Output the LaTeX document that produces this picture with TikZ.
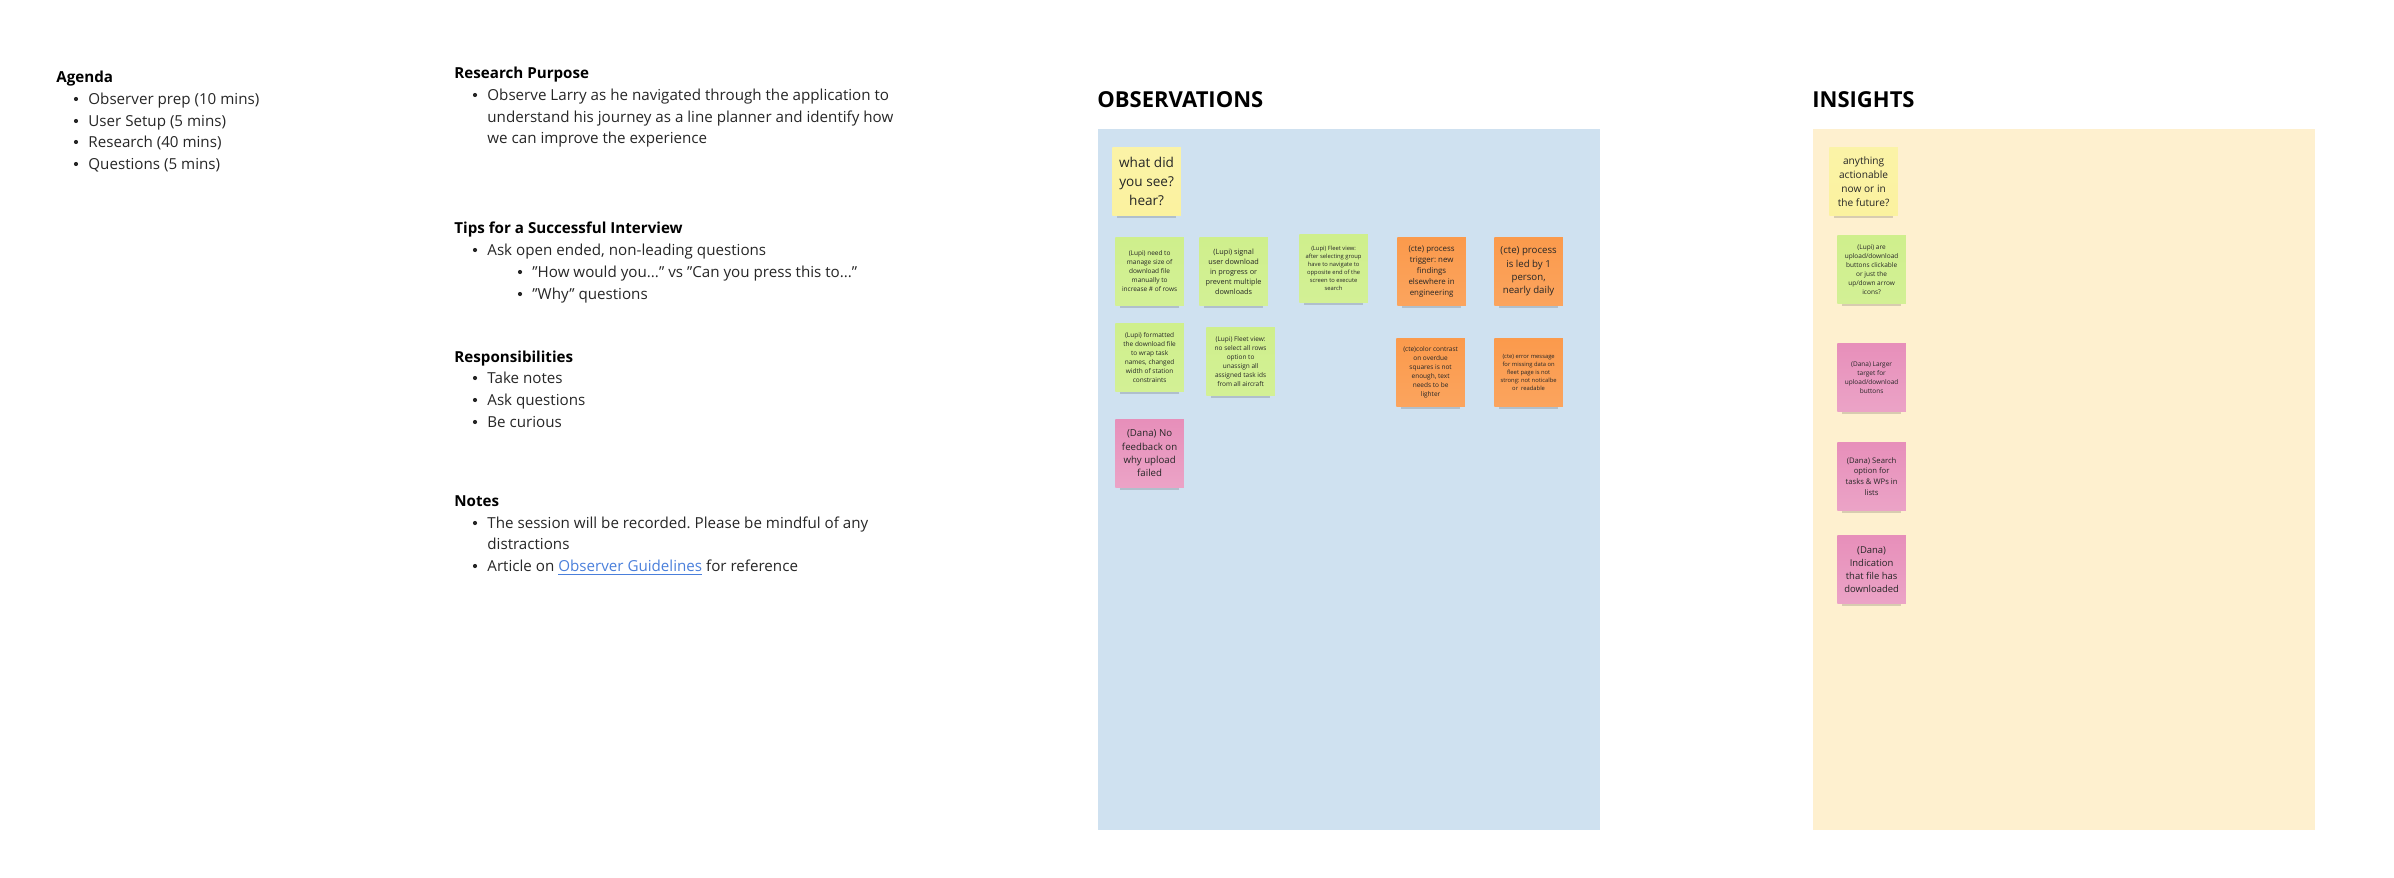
\documentclass[tikz,border=0pt]{standalone}
\usepackage{fontspec}
\setmainfont{Open Sans}[Ligatures=NoCommon]
\usetikzlibrary{shadows}
\frenchspacing
\definecolor{panelblue}{HTML}{CFE1F0}
\definecolor{panelcream}{HTML}{FEF0CF}
\definecolor{linkblue}{HTML}{4A7FDB}
\definecolor{inkgrey}{HTML}{262626}
\newcommand{\fsz}[1]{\fontsize{\fpeval{.985*#1}pt}{\fpeval{1.36*#1}pt}\selectfont}
\tikzset{
  body/.style={anchor=base west,inner sep=0,font=\fontsize{7.58pt}{10.8pt}\selectfont,text=inkgrey},
  head/.style={body,font=\fontsize{7.58pt}{10.8pt}\selectfont\bfseries,text=black},
  title/.style={anchor=base west,inner sep=0,font=\fontsize{11pt}{14pt}\selectfont\bfseries,text=black},
  dot/.style={circle,fill=inkgrey,inner sep=0,minimum size=2.1pt},
  sticky/.style={anchor=north west,minimum width=34.2pt,minimum height=34pt,inner sep=0,align=center,text=inkgrey,
    general shadow={fill=black,opacity=.15,shadow scale=.86,shadow yshift=-4.2pt},
    general shadow={fill=black,opacity=.4,shadow scale=.74,shadow yshift=-5.6pt}},
  yellownote/.style={sticky,top color=notey!92!white,bottom color=notey},
  greennote/.style={sticky,top color=noteg,bottom color=noteg!92!white},
  pinknote/.style={sticky,top color=notep,bottom color=notep!82!white},
  orangenote/.style={sticky,top color=noteo,bottom color=noteo!90!white},
}
\definecolor{notey}{HTML}{FBF29F}
\definecolor{noteg}{HTML}{CFEF8C}
\definecolor{notep}{HTML}{E78FBA}
\definecolor{noteo}{HTML}{FB9A4C}
\begin{document}
\begin{tikzpicture}[x=0.5pt,y=-0.5pt]
\useasboundingbox (0,0) rectangle (2394,878);
% left column
\node[head] (agenda) at (56,82) {Agenda};
\foreach \y/\t in {104/Observer prep (10 mins),126/User Setup (5 mins),147/Research (40 mins),169/Questions (5 mins)}{
  \node[dot] (agendadot\y) at (76,\y-5) {};
  \node[body] (agenda\y) at (88,\y) {\t};
}
% middle column
\node[head] (purpose) at (454,78) {Research Purpose};
\node[dot] (purposedot) at (475,95) {};
\node[body] (purpose1) at (487,100) {Observe Larry as he navigated through the application to};
\node[body] (purpose2) at (487,122) {understand his journey as a line planner and identify how};
\node[body] (purpose3) at (487,143) {we can improve the experience};
\node[head] (tips) at (454,233) {Tips for a Successful Interview};
\node[dot] (tipsdot) at (475,250) {};
\node[body] (tips1) at (487,255) {Ask open ended, non-leading questions};
\node[dot] (tipsdota) at (520,272) {};
\node[body] (tips2) at (532,277) {\symbol{34}How would you...\symbol{34} vs \symbol{34}Can you press this to...\symbol{34}};
\node[dot] (tipsdotb) at (520,294) {};
\node[body] (tips3) at (532,299) {\symbol{34}Why\symbol{34} questions};
\node[head] (resp) at (454,362) {Responsibilities};
\foreach \y/\t in {383/Take notes,405/Ask questions,427/Be curious}{
  \node[dot] (respdot\y) at (475,\y-5) {};
  \node[body] (resp\y) at (487,\y) {\t};
}
\node[head] (notes) at (454,506) {Notes};
\node[dot] (notesdot) at (475,523) {};
\node[body] (notes1) at (487,528) {The session will be recorded. Please be mindful of any};
\node[body] (notes2) at (487,549) {distractions};
\node[dot] (notesdotb) at (475,566) {};
\node[body] (notes3) at (487,571) {Article on \textcolor{linkblue}{\underline{Observer Guidelines}} for reference};
% observations
\node[title] (obstitle) at (1097,107) {OBSERVATIONS};
\fill[panelblue] (1098,129) rectangle (1600,830);
\node[yellownote,font=\fsz{6.9}] (seehear) at (1112,147) {what did\\you see?\\hear?};
\node[greennote,font=\fsz{3.3}] (lupia) at (1115,237) {(Lupi) need to\\manage size of\\download file\\manually to\\increase \# of rows};
\node[greennote,font=\fsz{3.7}] (lupib) at (1199,237) {(Lupi) signal\\user download\\in progress or\\prevent multiple\\downloads};
\node[greennote,font=\fsz{2.95}] (lupic) at (1299,234) {(Lupi) Fleet view:\\after selecting group\\have to navigate to\\opposite end of the\\screen to execute\\search};
\node[greennote,font=\fsz{3.3}] (lupid) at (1115,323) {(Lupi) formatted\\the download file\\to wrap task\\names, changed\\width of station\\constraints};
\node[greennote,font=\fsz{3.3}] (lupie) at (1206,327) {(Lupi) Fleet view:\\no select all rows\\option to\\unassign all\\assigned task ids\\from all aircraft};
\node[pinknote,font=\fsz{4.9}] (danaa) at (1115,419) {(Dana) No\\feedback on\\why upload\\failed};
\node[orangenote,font=\fsz{4}] (ctea) at (1397,237) {(cte) process\\trigger: new\\findings\\elsewhere in\\engineering};
\node[orangenote,font=\fsz{4.9}] (cteb) at (1494,237) {(cte) process\\is led by 1\\person,\\nearly daily};
\node[orangenote,font=\fsz{3.3}] (ctec) at (1396,338) {(cte)color contrast\\on overdue\\squares is not\\enough, text\\needs to be\\lighter};
\node[orangenote,font=\fsz{2.95}] (cted) at (1494,338) {(cte) error message\\for missing data on\\fleet page is not\\strong: not noticalbe\\or\ \ readable};
% insights
\node[title] (instit) at (1812,107) {INSIGHTS};
\fill[panelcream] (1813,129) rectangle (2315,830);
\node[yellownote,font=\fsz{5.15}] (action) at (1829,147) {anything\\actionable\\now or in\\the future?};
\node[greennote,font=\fsz{3.3}] (lupif) at (1837,235) {(Lupi) are\\upload/download\\buttons clickable\\or just the\\up/down arrow\\icons?};
\node[pinknote,font=\fsz{3.3}] (danab) at (1837,343) {(Dana) Larger\\target for\\upload/download\\buttons};
\node[pinknote,font=\fsz{3.9}] (danac) at (1837,442) {(Dana) Search\\option for\\tasks \& WPs in\\lists};
\node[pinknote,font=\fsz{4.8}] (danad) at (1837,535) {(Dana)\\Indication\\that file has\\downloaded};
\end{tikzpicture}
\end{document}
